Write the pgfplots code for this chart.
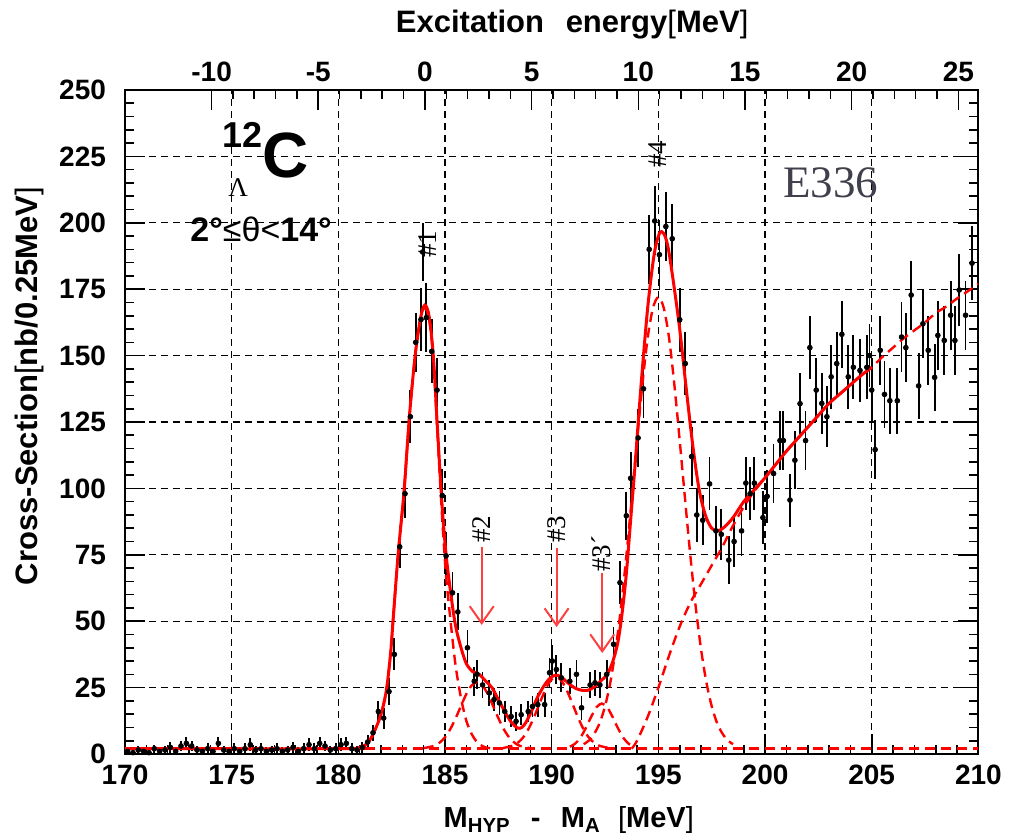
\documentclass[border=0pt]{standalone}
\usepackage{pgfplots}
\pgfplotsset{compat=1.18}
\usepackage{fontspec}
\setmainfont{Liberation Sans}
\newfontfamily\serif{Liberation Serif}
\usetikzlibrary{arrows.meta}
\definecolor{fitred}{rgb}{1,0,0}
\definecolor{arrred}{rgb}{1,0.25,0.25}
\definecolor{egray}{rgb}{0.25,0.25,0.3}
\begin{document}
\begin{tikzpicture}
\useasboundingbox (-62.5pt,-43pt) rectangle (442pt,377pt);
% ---------------- top axis (excitation energy) ----------------
\begin{axis}[
  at={(0,0)}, anchor=south west,
  width=426.7pt, height=332pt, scale only axis,
  xmin=-14.06, xmax=25.94, ymin=0, ymax=250,
  hide y axis,
  xtick={-10,-5,0,5,10,15,20,25},
  xticklabels={-10,-5,0,5,10,15,20,25},
  minor x tick num=4,
  xtick pos=upper, xticklabel pos=upper,
  tick align=inside,
  major tick length=10pt, minor tick length=4.5pt,
  axis line style={line width=1pt},
  tick style={black, line width=0.8pt},
  ticklabel style={font=\fontsize{14}{16}\selectfont\bfseries},
  xticklabel style={yshift=0.5pt},
  xlabel={Excitation\hspace{0.7em}energy{\mdseries[}MeV{\mdseries]}},
  xlabel style={at={(axis description cs:0.524,1.087)}, anchor=base, font=\fontsize{15.5}{17}\selectfont\bfseries},
]
\end{axis}
% ---------------- main axis ----------------
\begin{axis}[
  at={(0,0)}, anchor=south west,
  width=426.7pt, height=332pt, scale only axis,
  xmin=170, xmax=210, ymin=0, ymax=250,
  xtick={170,175,...,210},
  xticklabels={170,175,180,185,190,195,200,205,210},
  ytick={0,25,...,250},
  yticklabels={0,25,50,75,100,125,150,175,200,225,250},
  minor x tick num=4, minor y tick num=4,
  xtick pos=lower, xticklabel pos=lower,
  tick align=inside,
  major tick length=10pt, minor tick length=4.5pt,
  grid=major,
  major grid style={black, line width=0.55pt, dash pattern=on 3.5pt off 2.5pt},
  axis line style={line width=1pt},
  tick style={black, line width=0.8pt},
  ticklabel style={font=\fontsize{14}{16}\selectfont\bfseries},
  xticklabel style={yshift=-2pt},
  yticklabel style={xshift=-6pt},
  xlabel={M\textsubscript{HYP}\hspace{0.7em}-\hspace{0.7em}M\textsubscript{A}\hspace{0.6em}{\mdseries[}MeV{\mdseries]}},
  xlabel style={at={(axis description cs:0.520,-0.111)}, anchor=base, font=\fontsize{14.5}{16}\selectfont\bfseries},
  ylabel={Cross-Section{\mdseries[}nb/0.25MeV{\mdseries]}},
  ylabel style={at={(axis description cs:-0.102,0.554)}, anchor=base, font=\fontsize{15.5}{17}\selectfont\bfseries},
]
% ---- data ----
\addplot[black, only marks, mark=*, mark size=1.2pt,
  error bars/.cd, y dir=both, y explicit,
  error bar style={line width=0.9pt, black}, error mark=none]
table[x=x, y=y, y error=e] {
x y e
170.125 1 1.5
170.375 0.5 1
170.625 1.5 1.5
170.875 1 1.5
171.125 0.5 1
171.375 2 1.5
171.625 1 1.5
171.875 1.5 1.5
172.125 2.5 2
172.375 1 1.5
172.625 3 2
172.875 4 2.5
173.125 3 2
173.375 1.5 1.5
173.625 1 1.5
173.875 2 2
174.125 1 1.5
174.375 4 2.5
174.625 1.5 1.5
174.875 1 1.5
175.125 2 2
175.375 1 1.5
175.625 2 2
175.875 3.5 2.5
176.125 1.5 1.5
176.375 2 2
176.625 1 1.5
176.875 1.5 1.5
177.125 2 2
177.375 1 1.5
177.625 1.5 1.5
177.875 2.5 2
178.125 1 1.5
178.375 2 2
178.625 3.5 2.5
178.875 2 2
179.125 4 2.5
179.375 3 2
179.625 1.5 1.5
179.875 2 2
180.125 3.5 2.5
180.375 4 2.5
180.625 2 2
180.875 1.5 1.5
181.125 2.5 2
181.375 4.5 2.5
181.625 8 3
181.875 16 4
182.125 13.5 4
182.375 23.5 5
182.625 37.5 6
182.875 78 8
183.125 98 9
183.375 127 10
183.625 155 11
183.875 163.6 12
183.95 189 11
184.125 164.3 13
184.375 151.6 12
184.625 137 12
184.875 97.3 10
185.05 74.6 9
185.35 60.7 8
185.6 53.5 7
186.05 40 6.5
186.37 27.4 5.5
186.5 30 5.5
186.76 26 5
187.08 23 5
187.3 20.5 4.5
187.55 19.2 4.5
187.8 16 4
188.1 14.1 4
188.33 12.3 3.5
188.57 14.8 4
188.9 16 4
189.1 17.9 4
189.35 18.6 4.5
189.67 18.6 4.5
189.9 30.6 5.5
190.03 35 6
190.22 31.8 5.5
190.45 28.7 5.5
190.85 27.4 5
191.16 30 5.5
191.4 17.4 4.5
191.8 26 5
192.03 26.8 5
192.26 26 5
192.58 30 5.5
192.9 41.3 6.5
193.2 64.5 8
193.5 89.7 9
193.7 103.8 10
194.05 119 11
194.3 137.5 11
194.57 190 13
194.83 200.7 13
195.05 188 13
195.35 198.6 13
195.65 194 13
196.0 163.5 12
196.26 147 12
196.56 112 11
196.8 90 10
197.08 88 9.5
197.4 101.7 10
197.7 84 9.5
197.95 82.7 9.5
198.3 73 9
198.55 80 9.5
198.9 84 9.5
199.1 102 10
199.3 98 10
199.5 102 10
199.9 89 10
200.1 97 10
200.4 105.6 11
200.7 118 11
200.86 118 11
201.17 95.6 10
201.4 110.6 11
201.64 131.9 11.5
201.9 118 11
202.1 153 12
202.4 137 12
202.66 132 11.5
202.9 127 11.5
203.1 142 12
203.36 147 12
203.6 158 12.5
203.9 142 12
204.14 145.6 12
204.45 144.4 12
204.77 145.6 12
204.9 150 12
205.0 137 12
205.16 114.6 11
205.4 152 13
205.6 135.4 12.5
205.85 133 12.5
206.2 133 12.5
206.4 157 13
206.6 153 13
206.85 172.8 13
207.2 138.6 12.5
207.4 162 13
207.65 152 13
207.95 141.8 12.5
208.1 157.6 13
208.4 155.7 13
208.7 165.2 13
208.9 155.7 13
209.1 174.7 13.5
209.4 165.2 13
209.7 184.8 14
};
% ---- fit components (dashed) ----
\addplot[fitred, line width=1.2pt, dash pattern=on 5pt off 3pt] coordinates {(170,2) (210,2)};
% peak #1
\addplot[fitred, line width=1.2pt, dash pattern=on 5pt off 3pt, smooth] coordinates {
(181,2.5) (181.34,3.8) (181.6,7) (181.9,12.6) (182.1,18) (182.27,25) (182.45,38) (182.59,53) (182.8,75) (183.08,99) (183.33,127) (183.6,150) (183.85,164) (184.05,168) (184.25,164) (184.45,149) (184.65,120) (184.85,91) (185.05,67) (185.3,47) (185.5,33) (185.75,21) (186.0,12.5) (186.25,7.5) (186.5,4.5) (186.75,3) (187.0,2.3) (187.5,2)};
% peak #2
\addplot[fitred, line width=1.2pt, dash pattern=on 5pt off 3pt, smooth] coordinates {
(184.0,2.2) (184.5,3.1) (184.75,4.3) (185.0,6.3) (185.25,9.4) (185.5,13.5) (185.75,18.1) (186.0,22.6) (186.25,25.8) (186.5,27) (186.75,25.8) (187.0,22.6) (187.25,18.1) (187.5,13.5) (187.75,9.4) (188.0,6.3) (188.25,4.3) (188.5,3.1) (189.0,2.2)};
% peak #3
\addplot[fitred, line width=1.2pt, dash pattern=on 5pt off 3pt, smooth] coordinates {
(187.7,2.2) (188.2,3.2) (188.45,4.5) (188.7,6.6) (188.95,10.0) (189.2,14.4) (189.45,19.4) (189.7,24.1) (189.95,27.7) (190.2,29) (190.45,27.7) (190.7,24.1) (190.95,19.4) (191.2,14.4) (191.45,10.0) (191.7,6.6) (191.95,4.5) (192.2,3.2) (192.7,2.2)};
% peak #3'
\addplot[fitred, line width=1.2pt, dash pattern=on 5pt off 3pt, smooth] coordinates {
(190.85,2.75) (191.1,3.9) (191.35,6.2) (191.6,9.8) (191.85,14) (192.1,17.6) (192.35,19) (192.6,17.6) (192.85,14) (193.1,9.8) (193.35,6.2) (193.6,3.9) (193.85,2.75)};
% peak #4
\addplot[fitred, line width=1.2pt, dash pattern=on 5pt off 3pt, smooth] coordinates {
(191.5,3.7) (191.75,5.1) (192.0,7.7) (192.25,11.7) (192.5,18) (192.75,27) (193.0,39.5) (193.25,55.4) (193.5,74.6) (193.75,96) (194.0,118) (194.25,139) (194.5,156.7) (194.75,168) (195,172) (195.25,168) (195.5,156.7) (195.75,139) (196,118) (196.25,96) (196.5,74.6) (196.75,55.4) (197,39.5) (197.25,27) (197.5,18) (197.75,11.7) (198,7.7) (198.25,5.1) (198.5,3.7)};
% background
\addplot[fitred, line width=1.2pt, dash pattern=on 5pt off 3pt, smooth] coordinates {
(193.75,2) (194,5) (194.5,14) (195,25) (195.5,37) (196,48) (196.5,57) (197,64) (197.5,71) (198,78) (198.5,86) (199,93) (199.5,99) (200,104) (200.5,109) (201,114) (201.5,118.5) (202,123) (202.5,127.5) (203,132) (203.5,135.5) (204,139) (204.5,142.5) (205,145.6) (205.5,149.5) (206,153) (206.5,156.5) (207,159.5) (207.5,162.5) (208,166) (208.5,168.5) (209,171.5) (209.5,174.2) (210,177)};
% ---- total fit (solid) ----
\addplot[fitred, line width=1.5pt, smooth] coordinates {
(170,2) (180.5,2) (181,2.5) (181.34,3.8) (181.6,7) (181.9,12.6) (182.1,18) (182.27,25) (182.45,38) (182.59,53) (182.8,75) (183.08,99) (183.33,127) (183.6,150) (183.85,164) (184.05,169) (184.25,165) (184.45,150) (184.65,122) (184.85,95) (185.05,75) (185.3,58.6) (185.5,48) (185.75,40) (186.0,34) (186.3,31) (186.6,30) (186.9,27.5) (187.2,25) (187.5,20.5) (187.8,16) (188.1,12) (188.4,9.8) (188.6,10) (188.8,12) (189.05,16) (189.3,20.8) (189.55,24.5) (189.8,27.5) (190.05,29.3) (190.3,29.6) (190.55,28.3) (190.8,26.5) (191.1,24.8) (191.4,24) (191.7,24) (192.0,25.3) (192.3,27.5) (192.6,30) (192.85,34.5) (193.1,42) (193.3,53) (193.5,68) (193.7,88) (193.9,108) (194.2,140) (194.5,168) (194.8,188) (195.05,196) (195.25,196) (195.45,191) (195.7,178) (196.0,160) (196.3,138) (196.6,117) (196.9,100) (197.2,90) (197.5,85) (197.8,84) (198.1,85.5) (198.5,89) (199,95) (199.5,99.5) (200,104) (200.5,109) (201,114) (201.5,118.5) (202,123) (202.5,127.5) (203,132) (203.5,135.5) (204,139) (204.5,142.5) (205,145.6)};
% ---- arrows ----
\addplot[arrred, line width=1pt, -{Straight Barb[length=8.5pt,width=12pt,line width=1pt]}] coordinates {(186.72,77.9) (186.72,48.6)};
\addplot[arrred, line width=1pt, -{Straight Barb[length=8.5pt,width=12pt,line width=1pt]}] coordinates {(190.23,77.6) (190.23,47.8)};
\addplot[arrred, line width=1pt, -{Straight Barb[length=8.5pt,width=12pt,line width=1pt]}] coordinates {(192.37,68.1) (192.37,38)};
% ---- labels ----
\node[rotate=90, anchor=west, inner sep=0pt, font=\serif\fontsize{13.5}{14}\selectfont] at (axis cs:184.18,186.7) {\#1};
\node[rotate=90, anchor=west, inner sep=0pt, font=\serif\fontsize{13.5}{14}\selectfont] at (axis cs:186.69,79.4) {\#2};
\node[rotate=90, anchor=west, inner sep=0pt, font=\serif\fontsize{13.5}{14}\selectfont] at (axis cs:190.25,79.4) {\#3};
\node[rotate=90, anchor=west, inner sep=0pt, font=\serif\fontsize{13.5}{14}\selectfont] at (axis cs:192.31,68.5) {\#3´};
\node[rotate=90, anchor=west, inner sep=0pt, font=\serif\fontsize{13.5}{14}\selectfont] at (axis cs:194.98,220.6) {\#4};
\node[anchor=base west, inner sep=0pt, font=\fontsize{18}{18}\selectfont\bfseries] at (axis cs:174.55,228.5) {12};
\node[anchor=base west, inner sep=0pt, font=\fontsize{32}{32}\selectfont\bfseries] at (axis cs:176.42,216.9) {C};
\node[anchor=base west, inner sep=0pt, font=\serif\fontsize{13.5}{14}\selectfont] at (axis cs:174.83,210) {Λ};
\node[anchor=base west, inner sep=0pt, font=\fontsize{17}{17}\selectfont] at (axis cs:173.05,192.8) {\textbf{2°}≤θ<\textbf{14°}};
\node[anchor=base west, inner sep=0pt, font=\serif\fontsize{22.5}{23}\selectfont, text=egray] at (axis cs:200.84,209.7) {E336};
\end{axis}
\end{tikzpicture}
\end{document}
